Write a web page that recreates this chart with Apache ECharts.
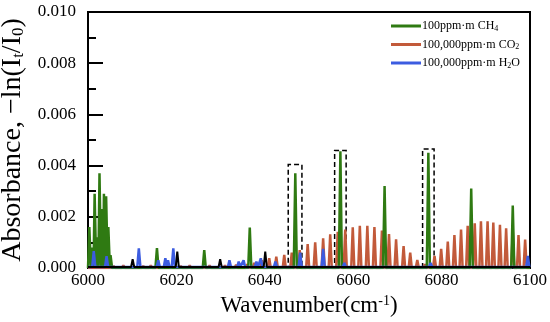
<!DOCTYPE html>
<html><head><meta charset="utf-8">
<script src="https://cdn.jsdelivr.net/npm/echarts@6/dist/echarts.min.js"></script>
<style>html,body{margin:0;padding:0;background:#fff}#c{width:550px;height:322px}</style>
</head><body><div id="c"></div>
<script>
// ---- data ----
const xTickLabels = ['6000','6020','6040','6060','6080','6100'];
const yTickLabels = ['0.000','0.002','0.004','0.006','0.008','0.010'];

// CH4 (100 ppm·m) peak positions (cm^-1) and absorbance
const ch4Pos = [6000.3,6000.9,6001.5,6002.0,6002.6,6003.1,6003.6,6004.1,6004.6,6005.1,6015.6,6026.3,6036.6,6046.9,6057.1,6067.1,6077.0,6086.7,6096.1];
const ch4Abs = [0.0016,0.0008,0.0029,0.0012,0.0037,0.0023,0.0029,0.0028,0.0016,0.0005,0.00078,0.0007,0.00158,0.0037,0.00456,0.0032,0.0045,0.0031,0.00244];

// CO2 (100,000 ppm·m)
const co2Pos = [6005.8,6008.0,6012.5,6014.2,6021.0,6023.0,6027.5,6031.0,6033.5,6036.0,6037.6,6039.3,6041.0,
  6042.6,6044.4,6046.1,6047.9,6049.7,6051.4,6053.2,6054.8,6056.5,6058.2,6059.9,6061.5,6063.2,6064.8,6066.5,6068.1,6069.7,6071.4,6072.9,6074.5,6076.2,
  6078.4,6079.9,6081.4,6082.9,6084.4,6085.9,6087.5,6088.9,6090.4,6091.7,6093.2,6094.6,6096.1,6097.4,6098.9];
const co2Abs = [0.00008,0.0001,0.00008,0.0001,0.00008,0.0001,0.0001,0.0001,0.00012,0.00015,0.0002,0.0003,0.00038,
  0.00044,0.00051,0.0006,0.0007,0.00093,0.0010,0.00116,0.00132,0.00141,0.0015,0.00159,0.00165,0.00165,0.0016,0.00146,0.00133,0.00112,0.00086,0.0006,0.00031,0.00015,
  0.00047,0.00075,0.00103,0.00129,0.0015,0.00165,0.00175,0.00182,0.00182,0.00178,0.00169,0.00155,0.00142,0.00129,0.00111];

// H2O (100,000 ppm·m)
const h2oPos = [6001.3,6004.2,6007.0,6009.0,6011.5,6013.0,6015.9,6017.5,6018.1,6019.3,6022.0,6024.3,6028.0,6032.0,6034.1,6035.2,6038.1,6039.1,6042.4,6044.0,6048.0,6053.2,6058.0,6062.0,6070.0,6077.5,6083.0,6090.0,6099.5];
const h2oAs  = [0.00066,0.00046,0.0001,0.0001,0.00077,0.0001,0.0003,0.00038,0.0003,0.00077,0.0001,0.0001,0.0001,0.0003,0.00025,0.0003,0.00025,0.00038,0.00025,0.0001,0.0006,0.00075,0.0002,0.0001,0.0001,0.0002,0.0001,0.0001,0.00047];

// unlabelled black marks
const blkPos = [6010.1,6020.2,6029.9,6040.1];
const blkAbs = [0.00034,0.00064,0.00034,0.00064];

// dashed highlight boxes: [x0, x1, top]
const boxX0 = [6045.3,6055.8,6075.7];
const boxX1 = [6048.4,6058.4,6078.3];
const boxTop = [0.00404,0.00459,0.00465];

// ---- rendering ----
const FONT = '"Liberation Serif", "Times New Roman", Times, serif';
const HW = 0.35; // half width of a drawn spike (style)
function spikes(pos, abs, base) {
  const d = [[6000, base]];
  pos.forEach((p, i) => { d.push([p - HW, base]); d.push([p, abs[i]]); d.push([p + HW, base]); });
  d.push([6100, base]);
  return d;
}
const names = {CH4:'100ppm·m CH{sub|4}', CO2:'100,000ppm·m CO{sub|2}', H2O:'100,000ppm·m H{sub|2}O'};
const chart = echarts.init(document.getElementById('c'));
chart.setOption({
  animation:false,
  backgroundColor:'#fff',
  grid:{left:88,right:20,top:12,bottom:54,show:true,borderColor:'#000',borderWidth:2,backgroundColor:'transparent',containLabel:false,outerBoundsMode:'none'},
  legend:{
    orient:'vertical', left:386, top:15, itemWidth:30, itemHeight:3, itemGap:6, icon:'rect',
    data:['CH4','CO2','H2O'],
    formatter: n => names[n],
    textStyle:{fontFamily:FONT,fontSize:12,color:'#000',padding:[0,0,0,-4],
      rich:{sub:{fontFamily:FONT,fontSize:8,verticalAlign:'bottom',padding:[5,0,0,0]}}}
  },
  xAxis:{type:'value',min:6000,max:6100,interval:20,
    axisLine:{show:true,onZero:false,lineStyle:{color:'#000',width:2}},
    axisTick:{show:false},splitLine:{show:false},
    axisLabel:{fontFamily:FONT,fontSize:17,color:'#000',margin:4,formatter:v=>xTickLabels[Math.round((v-6000)/20)]},
    name:'Wavenumber(cm{sup|-1})',nameLocation:'middle',nameGap:26,
    nameTextStyle:{fontFamily:FONT,fontSize:23,color:'#000',
      rich:{sup:{fontFamily:FONT,fontSize:14,verticalAlign:'top',padding:[0,0,10,0]}}}
  },
  yAxis:{type:'value',min:0,max:0.010,interval:0.002,
    axisLine:{show:true,lineStyle:{color:'#000',width:2}},
    axisTick:{show:true,inside:true,length:15,lineStyle:{color:'#000',width:2}},
    minorTick:{show:true,splitNumber:2,length:8,lineStyle:{color:'#000',width:2}},
    splitLine:{show:false},minorSplitLine:{show:false},
    axisLabel:{fontFamily:FONT,fontSize:17,color:'#000',margin:12,formatter:v=>yTickLabels[Math.round(v/0.002)]},
    name:'Absorbance, −ln(I{sub|t}/I{sub|0})',nameLocation:'middle',nameGap:58,
    nameTextStyle:{fontFamily:FONT,fontSize:28,color:'#000',
      rich:{sub:{fontFamily:FONT,fontSize:17,verticalAlign:'bottom',padding:[12,0,0,0]}}}
  },
  series:[
    {name:'CO2',type:'line',showSymbol:false,data:spikes(co2Pos,co2Abs,0),lineStyle:{color:'#c25a3a',width:2.5},itemStyle:{color:'#c25a3a'},z:2},
    {name:'CH4',type:'line',showSymbol:false,data:spikes(ch4Pos,ch4Abs,0),lineStyle:{color:'#2f7a12',width:2.5},itemStyle:{color:'#2f7a12'},z:3},
    {name:'H2O',type:'line',showSymbol:false,data:spikes(h2oPos,h2oAs,0.00004),lineStyle:{color:'#3c5ce0',width:2.5},itemStyle:{color:'#3c5ce0'},z:4},
    {name:'marks',type:'line',showSymbol:false,data:spikes(blkPos,blkAbs,0.00004),lineStyle:{color:'#000',width:2},z:5,
      markArea:{silent:true,itemStyle:{color:'rgba(0,0,0,0)',borderColor:'#000',borderWidth:1.5,borderType:[5,3]},
        data:boxX0.map((x,i)=>[{xAxis:x,yAxis:0},{xAxis:boxX1[i],yAxis:boxTop[i]}])}}
  ]
});
</script></body></html>
